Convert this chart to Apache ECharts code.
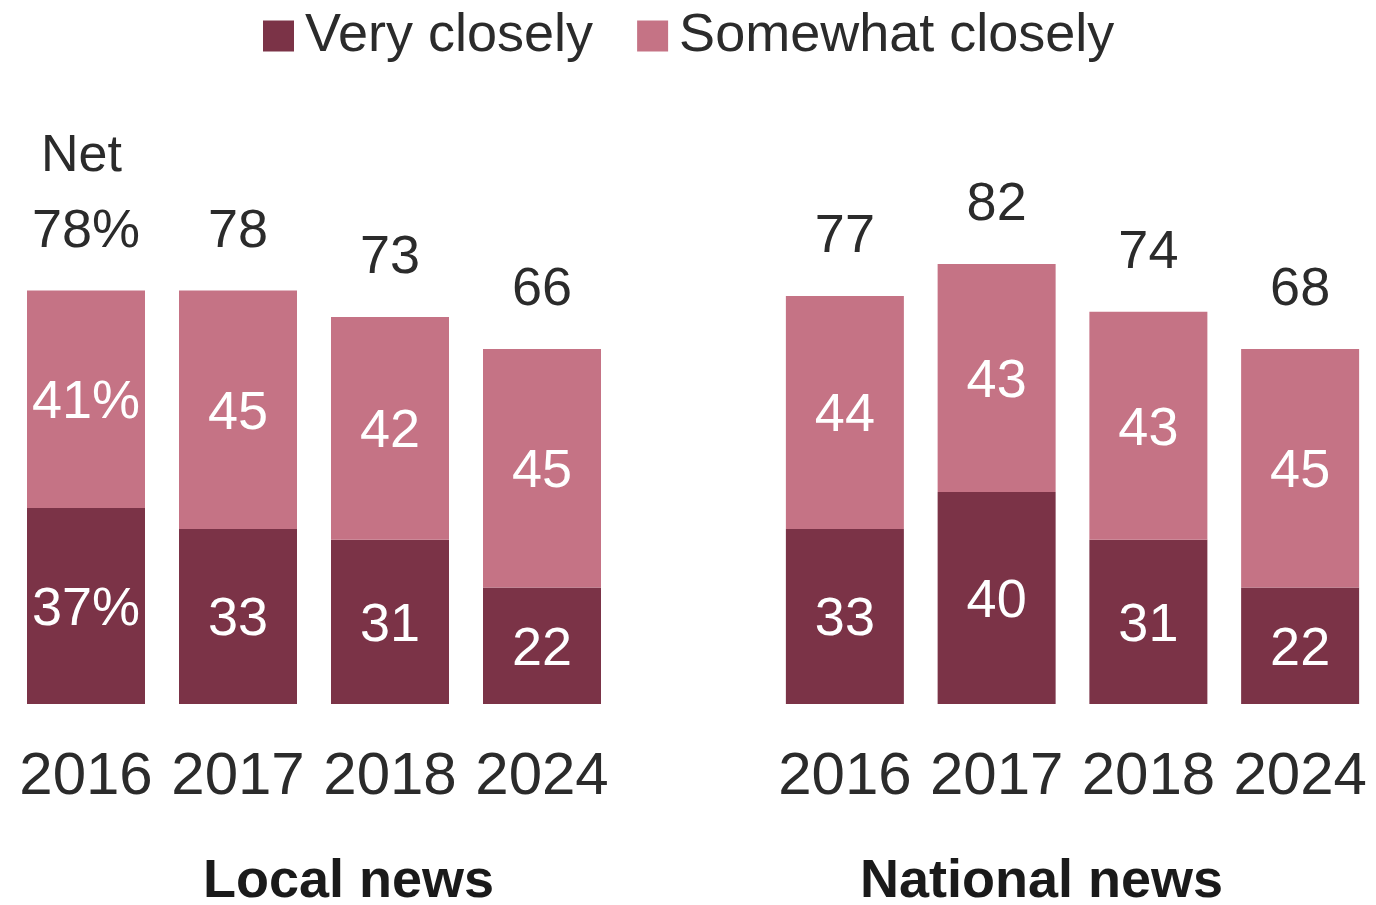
<!DOCTYPE html>
<html>
<head>
<meta charset="utf-8">
<script src="https://cdn.jsdelivr.net/npm/echarts@6/dist/echarts.min.js"></script>
<style>html,body{margin:0;padding:0;background:#fff;}#c{width:1376px;height:905px;}</style>
</head>
<body>
<div id="c"></div>
<script>
const years = ['2016', '2017', '2018', '2024'];
const localVery = [37, 33, 31, 22];
const localSomewhat = [41, 45, 42, 45];
const localNet = [78, 78, 73, 66];
const nationalVery = [33, 40, 31, 22];
const nationalSomewhat = [44, 43, 43, 45];
const nationalNet = [77, 82, 74, 68];

const DARK = '#7b3347';
const LIGHT = '#c57385';
const FONT = '"Liberation Sans", Arial, sans-serif';
const TEXT = '#2b2b2b';

const chart = echarts.init(document.getElementById('c'));

function insideLabel(pct) {
  return {
    show: true, position: 'inside', offset: [0, 4], color: '#fff', fontSize: 54, fontFamily: FONT,
    formatter: p => (pct && p.dataIndex === 0) ? p.value + '%' : String(p.value)
  };
}
function netSeries(idx, very, some, net, pct) {
  return {
    type: 'scatter', xAxisIndex: idx, yAxisIndex: idx,
    symbol: 'rect', symbolSize: 1, itemStyle: { color: 'rgba(0,0,0,0)', opacity: 1 },
    silent: true,
    data: very.map((v, i) => [i, v + some[i]]),
    label: {
      show: true, position: 'top', distance: 30, color: TEXT, fontSize: 54, fontFamily: FONT,
      lineHeight: 56, opacity: 1,
      formatter: p => (pct && p.dataIndex === 0) ? net[p.dataIndex] + '%' : String(net[p.dataIndex])
    }
  };
}
function xAxis(idx) {
  return {
    type: 'category', gridIndex: idx, data: years,
    axisLine: { show: false }, axisTick: { show: false },
    axisLabel: { interval: 0, color: TEXT, fontSize: 60, fontFamily: FONT, margin: 42, lineHeight: 62 }
  };
}
function yAxis(idx) {
  return { type: 'value', gridIndex: idx, min: 0, max: 100, show: false, splitLine: { show: false } };
}

chart.setOption({
  animation: false,
  backgroundColor: '#fff',
  textStyle: { fontFamily: FONT },
  title: [
    { text: 'Net', left: 36, top: 126, textStyle: { fontSize: 52, fontWeight: 'normal', color: TEXT, fontFamily: FONT } },
    { text: 'Local news', left: 198, top: 850, textStyle: { fontSize: 54, fontWeight: 'bold', color: '#1a1a1a', fontFamily: FONT } },
    { text: 'National news', left: 855, top: 850, textStyle: { fontSize: 54, fontWeight: 'bold', color: '#1a1a1a', fontFamily: FONT } }
  ],
  legend: {
    left: 258, top: 4, itemWidth: 31, itemHeight: 31, itemGap: 44, icon: 'rect',
    data: ['Very closely', 'Somewhat closely'],
    textStyle: { fontSize: 54, color: TEXT, fontFamily: FONT, padding: [0, 0, 0, 6] }
  },
  grid: [
    { left: 10, top: 174, width: 608, height: 530 },
    { left: 769, top: 174, width: 607, height: 530 }
  ],
  xAxis: [xAxis(0), xAxis(1)],
  yAxis: [yAxis(0), yAxis(1)],
  series: [
    { name: 'Very closely', type: 'bar', stack: 'local', xAxisIndex: 0, yAxisIndex: 0, barWidth: 118,
      itemStyle: { color: DARK }, data: localVery, label: insideLabel(true) },
    { name: 'Somewhat closely', type: 'bar', stack: 'local', xAxisIndex: 0, yAxisIndex: 0, barWidth: 118,
      itemStyle: { color: LIGHT }, data: localSomewhat, label: insideLabel(true) },
    netSeries(0, localVery, localSomewhat, localNet, true),
    { name: 'Very closely', type: 'bar', stack: 'national', xAxisIndex: 1, yAxisIndex: 1, barWidth: 118,
      itemStyle: { color: DARK }, data: nationalVery, label: insideLabel(false) },
    { name: 'Somewhat closely', type: 'bar', stack: 'national', xAxisIndex: 1, yAxisIndex: 1, barWidth: 118,
      itemStyle: { color: LIGHT }, data: nationalSomewhat, label: insideLabel(false) },
    netSeries(1, nationalVery, nationalSomewhat, nationalNet, false)
  ]
});
</script>
</body>
</html>
